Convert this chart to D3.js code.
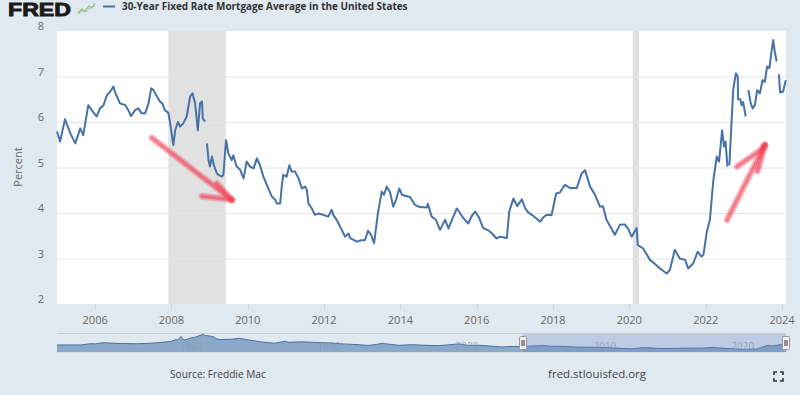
<!DOCTYPE html>
<html><head><meta charset="utf-8">
<script src="https://cdn.jsdelivr.net/npm/d3@7"></script>
<style>
body{margin:0;background:#e1e9f0;}
svg{display:block;font-family:"Open Sans",sans-serif;}
</style></head><body>
<svg id="c" width="800" height="395"></svg>
<script>
// ---------- data ----------
const title = "30-Year Fixed Rate Mortgage Average in the United States";
const yLabel = "Percent";
const sourceText = "Source: Freddie Mac";
const siteText = "fred.stlouisfed.org";
const yTicks = [2, 3, 4, 5, 6, 7, 8];
const xTickYears = [2006, 2008, 2010, 2012, 2014, 2016, 2018, 2020, 2022, 2024];
const navTickYears = [1980, 1990, 2000, 2010, 2020];
const recessions = [[2007.92, 2009.42], [2020.09, 2020.25]];
// [decimal year, percent]; null = missing value (gap in line)
const mortgage = [
[2005.00,5.79],[2005.08,5.57],[2005.21,6.06],[2005.35,5.75],[2005.48,5.53],[2005.61,5.86],[2005.69,5.71],[2005.82,6.37],[2005.91,6.26],
[2006.04,6.12],[2006.13,6.30],[2006.22,6.37],[2006.31,6.59],[2006.39,6.66],[2006.48,6.78],[2006.52,6.66],[2006.65,6.41],[2006.79,6.37],[2006.87,6.26],[2006.94,6.13],
[2007.05,6.26],[2007.13,6.30],[2007.22,6.19],[2007.31,6.19],[2007.40,6.41],[2007.47,6.74],[2007.53,6.70],[2007.62,6.56],[2007.70,6.45],[2007.76,6.41],[2007.83,6.26],[2007.92,6.20],[2007.96,6.01],
[2008.05,5.49],[2008.10,5.82],[2008.17,6.00],[2008.23,5.90],[2008.31,5.97],[2008.40,6.12],[2008.49,6.56],[2008.55,6.63],[2008.62,6.41],[2008.69,5.82],[2008.75,6.41],[2008.80,6.45],[2008.82,6.08],[2008.88,6.01],
[2008.905,null],
[2008.93,5.53],[2008.97,5.16],[2009.01,5.02],[2009.06,5.24],[2009.10,5.09],[2009.14,4.98],[2009.19,4.87],[2009.23,4.84],[2009.32,4.80],[2009.36,4.84],[2009.43,5.60],[2009.49,5.31],[2009.58,5.16],[2009.62,5.27],[2009.71,5.02],[2009.80,4.95],[2009.89,4.76],[2009.97,5.13],
[2010.06,5.02],[2010.15,4.98],[2010.24,5.20],[2010.32,5.05],[2010.41,4.80],[2010.50,4.62],[2010.63,4.36],[2010.72,4.29],[2010.76,4.21],[2010.85,4.21],[2010.89,4.58],[2010.93,4.84],
[2011.02,4.80],[2011.09,5.05],[2011.15,4.91],[2011.24,4.91],[2011.33,4.76],[2011.42,4.54],[2011.50,4.58],[2011.55,4.51],[2011.59,4.21],[2011.68,4.10],[2011.76,3.96],[2011.85,3.99],[2011.98,3.96],
[2012.11,3.92],[2012.20,4.07],[2012.24,3.96],[2012.33,3.85],[2012.42,3.70],[2012.51,3.55],[2012.55,3.48],[2012.64,3.55],[2012.68,3.45],[2012.86,3.37],[2012.97,3.40],
[2013.07,3.40],[2013.15,3.61],[2013.23,3.52],[2013.31,3.34],[2013.41,4.00],[2013.51,4.47],[2013.57,4.40],[2013.64,4.58],[2013.73,4.45],[2013.81,4.14],[2013.89,4.30],[2013.97,4.54],
[2014.04,4.40],[2014.12,4.38],[2014.25,4.35],[2014.38,4.18],[2014.51,4.13],[2014.69,4.12],[2014.72,4.20],[2014.82,3.92],[2014.93,3.85],
[2015.04,3.63],[2015.17,3.85],[2015.26,3.66],[2015.35,3.85],[2015.48,4.10],[2015.56,4.00],[2015.64,3.90],[2015.78,3.77],[2015.88,3.95],[2015.96,4.03],
[2016.06,3.90],[2016.17,3.67],[2016.30,3.62],[2016.40,3.55],[2016.52,3.44],[2016.61,3.48],[2016.79,3.45],[2016.85,4.03],[2016.96,4.32],
[2017.06,4.15],[2017.18,4.30],[2017.27,4.10],[2017.34,4.02],[2017.44,3.96],[2017.53,3.90],[2017.66,3.81],[2017.74,3.90],[2017.83,3.96],[2017.96,3.95],
[2018.08,4.43],[2018.18,4.45],[2018.31,4.62],[2018.44,4.55],[2018.62,4.55],[2018.75,4.87],[2018.84,4.94],[2018.97,4.58],
[2019.10,4.40],[2019.23,4.14],[2019.31,4.15],[2019.40,3.85],[2019.53,3.66],[2019.62,3.52],[2019.75,3.74],[2019.88,3.75],[2019.97,3.65],
[2020.06,3.48],[2020.19,3.67],[2020.22,3.30],[2020.36,3.22],[2020.54,2.97],[2020.67,2.88],[2020.80,2.78],[2020.98,2.67],
[2021.06,2.75],[2021.19,3.19],[2021.32,3.00],[2021.46,2.97],[2021.54,2.78],[2021.67,2.89],[2021.79,3.15],[2021.89,3.04],[2021.94,3.08],
[2022.03,3.59],[2022.11,3.85],[2022.20,4.72],[2022.29,5.24],[2022.35,5.13],[2022.43,5.82],[2022.48,5.46],[2022.52,5.57],[2022.57,5.02],
[2022.595,null],
[2022.62,5.05],[2022.72,6.70],[2022.79,7.07],[2022.84,7.00],[2022.85,6.48],
[2022.87,null],
[2022.90,6.52],[2022.94,6.37],[2022.98,6.44],[2023.05,6.12],
[2023.08,null],
[2023.12,6.70],[2023.18,6.41],[2023.23,6.30],[2023.29,6.37],[2023.35,6.70],[2023.42,6.63],[2023.49,6.92],[2023.55,6.88],[2023.61,7.22],[2023.67,7.18],[2023.73,7.58],[2023.77,7.80],[2023.81,7.55],[2023.86,7.33],
[2023.89,null],
[2023.92,7.05],[2023.95,6.65],[2024.03,6.67],[2024.10,6.92]
];
// navigator (full history) [decimal year, percent]
const navSeries = [
[1971.25,7.33],[1972,7.44],[1973,7.44],[1973.7,8.8],[1974,8.5],[1974.7,9.9],[1975,9.4],[1976,8.9],[1977,8.7],[1978,9.1],
[1979,10.4],[1979.5,11.1],[1979.85,12.9],[1980.0,12.9],[1980.25,16.3],[1980.45,12.5],[1980.7,13.5],[1980.95,14.8],
[1981.2,15.3],[1981.5,16.8],[1981.8,18.5],[1982.0,17.4],[1982.3,16.9],[1982.6,16.0],[1982.85,13.6],[1983.2,13.0],[1983.5,13.3],[1983.9,13.4],
[1984.5,14.5],[1985,13.0],[1986,10.8],[1986.5,10.0],[1987,9.2],[1987.8,11.3],[1988,10.2],[1989,10.7],[1990,10.1],[1991,9.6],[1992,8.5],
[1993,7.8],[1993.8,6.9],[1994,7.1],[1994.9,9.2],[1995,8.8],[1996,7.0],[1997,7.7],[1998,7.0],[1998.8,6.7],[1999,6.8],[2000.4,8.5],
[2001,7.0],[2002,7.0],[2003,5.9],[2003.5,5.2],[2004,5.8],[2005,5.8],[2006.5,6.7],[2007,6.2],[2008,5.8],[2009,5.1],[2010,5.0],
[2011,4.8],[2012,3.9],[2013,3.4],[2013.7,4.5],[2014,4.5],[2015,3.7],[2016,3.8],[2017,4.1],[2018,4.0],[2018.85,4.9],[2019,4.5],
[2020,3.6],[2021,2.7],[2022,3.2],[2022.8,7.0],[2023,6.2],[2023.8,7.8],[2024,6.6],[2024.1,6.9]
];
// annotation arrows drawn on the picture, in data coordinates [year, percent]
const arrows = [
  {shaft: [[2007.49,5.65],[2009.58,4.29]], barbs: [[[2009.19,4.65],[2009.58,4.29]], [[2008.80,4.37],[2009.58,4.29]]]},
  {shaft: [[2022.56,3.85],[2023.55,5.49]], barbs: [[[2022.82,5.02],[2023.40,5.36],[2023.55,5.49]], [[2023.55,5.49],[2023.36,4.92]]]}
];

// ---------- helpers ----------
function dec(t){const y=Math.floor(t);const s=new Date(y,0,1),e=new Date(y+1,0,1);return new Date(s.getTime()+(t-y)*(e-s));}

const svg = d3.select("#c");
const L=57, R=786, T=31, B=304;
const x = d3.scaleTime().domain([dec(2005.0), dec(2024.105)]).range([L, R]);
const y = d3.scaleLinear().domain([2, 8]).range([B, T]);

// background
svg.append("rect").attr("width",800).attr("height",395).attr("fill","#e1e9f0");
svg.append("rect").attr("x",L).attr("y",T).attr("width",R-L).attr("height",B-T).attr("fill","#ffffff");

// recessions
svg.selectAll(".rec").data(recessions).enter().append("rect")
  .attr("x",d=>x(dec(d[0]))).attr("width",d=>x(dec(d[1]))-x(dec(d[0])))
  .attr("y",T).attr("height",B-T).attr("fill","#e1e1e1");

// gridlines
svg.selectAll(".grid").data(yTicks.filter(v=>v<8)).enter().append("line")
  .attr("x1",L).attr("x2",R).attr("y1",d=>y(d)+0.5).attr("y2",d=>y(d)+0.5)
  .attr("stroke","#e6e6e6").attr("stroke-width",1);

// y labels
svg.selectAll(".yl").data(yTicks).enter().append("text")
  .attr("x",44).attr("y",d=>y(d)-1).attr("text-anchor","end")
  .attr("font-size",11).attr("fill","#666").text(d=>d);
svg.append("text").attr("transform","translate(22,167) rotate(-90)")
  .attr("text-anchor","middle").attr("font-size",11).attr("fill","#666").text(yLabel);

// x axis ticks & labels
const xt = svg.append("g");
xt.selectAll("line").data(xTickYears).enter().append("line")
  .attr("x1",d=>Math.round(x(dec(d)))+0.5).attr("x2",d=>Math.round(x(dec(d)))+0.5)
  .attr("y1",B).attr("y2",B+6).attr("stroke","#ccd6eb");
xt.selectAll("text").data(xTickYears).enter().append("text")
  .attr("x",d=>x(dec(d))).attr("y",324).attr("text-anchor","middle")
  .attr("font-size",11).attr("fill","#666").text(d=>d);

// main line
const line = d3.line().defined(d=>d[1]!=null).x(d=>x(dec(d[0]))).y(d=>y(d[1]));
svg.append("path").datum(mortgage).attr("d",line).attr("fill","none")
  .attr("stroke","#4572a7").attr("stroke-width",2).attr("stroke-linejoin","round");

// arrows
const defs = svg.append("defs");
defs.append("filter").attr("id","blur").append("feGaussianBlur").attr("stdDeviation",0.7);
const aline = d3.line().x(d=>x(dec(d[0]))).y(d=>y(d[1]));
const ag = svg.append("g").attr("filter","url(#blur)");
arrows.forEach(a=>{
  [a.shaft, ...a.barbs].forEach(seg=>{
    ag.append("path").attr("d",aline(seg)).attr("fill","none")
      .attr("stroke","rgba(240,70,90,0.35)").attr("stroke-width",7).attr("stroke-linecap","round");
    ag.append("path").attr("d",aline(seg)).attr("fill","none")
      .attr("stroke","rgba(240,60,80,0.5)").attr("stroke-width",3.5).attr("stroke-linecap","round");
  });
});

// ---------- navigator ----------
const NT=333, NB=352;
const nx = d3.scaleTime().domain([dec(1971.25), dec(2024.105)]).range([L, R]);
const ny = d3.scaleLinear().domain([0, 20]).range([NB, NT]);
const area = d3.area().x(d=>nx(dec(d[0]))).y0(NB).y1(d=>ny(d[1]));
svg.append("path").datum(navSeries).attr("d",area).attr("fill","rgba(69,114,167,0.55)");
svg.append("path").datum(navSeries).attr("d",d3.line().x(d=>nx(dec(d[0]))).y(d=>ny(d[1])))
  .attr("fill","none").attr("stroke","#4572a7").attr("stroke-width",1);
svg.selectAll(".nl").data(navTickYears).enter().append("text")
  .attr("x",d=>nx(dec(d))+2).attr("y",350).attr("font-size",10).attr("fill","#8a9bb0").attr("opacity",0.8).text(d=>d);
const selL = nx(dec(2005.0)), selR = R;
svg.append("rect").attr("x",selL).attr("y",NT).attr("width",selR-selL).attr("height",NB-NT)
  .attr("fill","rgba(102,133,194,0.3)");
svg.append("line").attr("x1",L).attr("x2",R).attr("y1",NT+0.5).attr("y2",NT+0.5).attr("stroke","#cccccc");
svg.append("line").attr("x1",L).attr("x2",R).attr("y1",NB+0.5).attr("y2",NB+0.5).attr("stroke","#d6dde6");
[selL, selR].forEach(h=>{
  const g = svg.append("g").attr("transform",`translate(${Math.round(h)},${NT+3})`);
  g.append("rect").attr("x",-3.5).attr("y",0.5).attr("width",7).attr("height",13).attr("rx",1)
    .attr("fill","#f2f2f2").attr("stroke","#999");
  g.append("line").attr("x1",-1).attr("x2",-1).attr("y1",4).attr("y2",10).attr("stroke","#333");
  g.append("line").attr("x1",1).attr("x2",1).attr("y1",4).attr("y2",10).attr("stroke","#333");
});

// ---------- header ----------
const fred = svg.append("text").attr("x",8).attr("y",15.5).attr("font-family","Liberation Sans, Arial, sans-serif")
  .attr("font-weight",900).attr("font-size",19).attr("textLength",63).attr("lengthAdjust","spacingAndGlyphs")
  .attr("fill","#1a1a1a").attr("stroke","#1a1a1a").attr("stroke-width",0.9).text("FRED");
// small logo glyph
const ic = svg.append("g");
ic.append("path").attr("d","M78,13 L82,9 L85,11 L89,6 L92,8 L95,3").attr("fill","none").attr("stroke","#8fbf5a").attr("stroke-width",1.2);
ic.append("path").attr("d","M78,14 L82,11 L86,12 L90,8 L95,6").attr("fill","none").attr("stroke","#9fb5cc").attr("stroke-width",1);
svg.append("line").attr("x1",103).attr("x2",115).attr("y1",6.5).attr("y2",6.5).attr("stroke","#4572a7").attr("stroke-width",2);
const tt = svg.append("text").attr("x",122).attr("y",10).attr("font-weight",700).attr("font-size",11)
  .attr("fill","#333").text(title);
function fit(sel, w, base){const l = sel.node().getComputedTextLength(); sel.attr("font-size", base*w/l);}
fit(tt, 286, 11);

// ---------- footer ----------
const st = svg.append("text").attr("x",170).attr("y",378).attr("font-size",11).attr("fill","#444").text(sourceText);
fit(st, 96, 11);
const ft = svg.append("text").attr("x",646).attr("y",378).attr("text-anchor","end").attr("font-size",11).attr("fill","#444").text(siteText);
fit(ft, 98, 11);
const fs = svg.append("g").attr("stroke","#333").attr("stroke-width",1.6).attr("fill","none");
fs.append("path").attr("d","M774,375 V372 H777 M780,372 H783 V375 M783,378 V381 H780 M777,381 H774 V378");
</script>
</body></html>
